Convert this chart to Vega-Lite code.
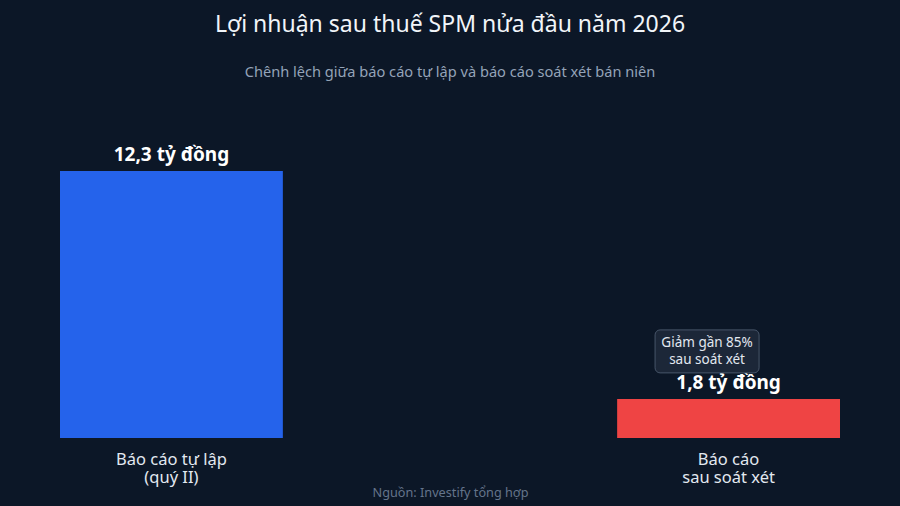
{
  "$schema": "https://vega.github.io/schema/vega-lite/v6.json",
  "autosize": "none",
  "width": 780,
  "height": 325.6,
  "padding": {"left": 60, "right": 60, "top": 112.4, "bottom": 68},
  "background": "#0c1727",
  "config": {
    "view": {"stroke": null},
    "font": "Noto Sans"
  },
  "title": {
    "text": "Lợi nhuận sau thuế SPM nửa đầu năm 2026",
    "subtitle": "Chênh lệch giữa báo cáo tự lập và báo cáo soát xét bán niên",
    "anchor": "middle",
    "frame": "group",
    "font": "Noto Sans",
    "fontSize": 23,
    "fontWeight": "normal",
    "color": "#f1f5f9",
    "subtitleFont": "Noto Sans",
    "subtitleFontSize": 14.6,
    "subtitleColor": "#94a3b8",
    "subtitlePadding": 28,
    "offset": 33
  },
  "data": {
    "values": [
      {"report": "Báo cáo tự lập|(quý II)", "profit": 12.3, "label": "12,3 tỷ đồng", "order": 1},
      {"report": "Báo cáo|sau soát xét", "profit": 1.8, "label": "1,8 tỷ đồng", "order": 2}
    ]
  },
  "encoding": {
    "x": {
      "field": "report",
      "type": "nominal",
      "sort": {"field": "order"},
      "scale": {"paddingInner": 0.6, "paddingOuter": 0},
      "title": "Nguồn: Investify tổng hợp",
      "axis": {
        "domain": false,
        "ticks": false,
        "labelAngle": 0,
        "labelExpr": "split(datum.label, '|')",
        "labelFont": "Noto Sans",
        "labelFontSize": 16.5,
        "labelColor": "#e2e8f0",
        "labelLineHeight": 18,
        "labelPadding": 13,
        "titleFont": "Noto Sans",
        "titleFontSize": 12.7,
        "titleFontWeight": "normal",
        "titleColor": "#64748b",
        "titlePadding": 1
      }
    }
  },
  "layer": [
    {
      "mark": {"type": "bar"},
      "encoding": {
        "y": {
          "field": "profit",
          "type": "quantitative",
          "scale": {"domain": [0, 15], "nice": false},
          "axis": null
        },
        "color": {
          "field": "report",
          "type": "nominal",
          "scale": {"range": ["#2563eb", "#ef4444"]},
          "legend": null
        }
      }
    },
    {
      "mark": {
        "type": "text",
        "baseline": "alphabetic",
        "dy": -10,
        "font": "Noto Sans",
        "fontSize": 19,
        "fontWeight": "bold",
        "color": "#ffffff"
      },
      "encoding": {
        "y": {"field": "profit", "type": "quantitative"},
        "text": {"field": "label"}
      }
    },
    {
      "transform": [{"filter": "datum.order == 2"}],
      "mark": {
        "type": "bar",
        "width": 104,
        "xOffset": -21.5,
        "cornerRadius": 5,
        "fill": "#1e293b",
        "fillOpacity": 0.9,
        "stroke": "#475569",
        "strokeWidth": 1
      },
      "encoding": {
        "y": {"datum": 4.98},
        "y2": {"datum": 3.0}
      }
    },
    {
      "transform": [{"filter": "datum.order == 2"}],
      "mark": {
        "type": "text",
        "baseline": "middle",
        "xOffset": -21.5,
        "dy": -8.5,
        "lineHeight": 17,
        "font": "Noto Sans",
        "fontSize": 13.5,
        "color": "#e2e8f0"
      },
      "encoding": {
        "y": {"datum": 3.99},
        "text": {"value": ["Giảm gần 85%", "sau soát xét"]}
      }
    }
  ]
}
